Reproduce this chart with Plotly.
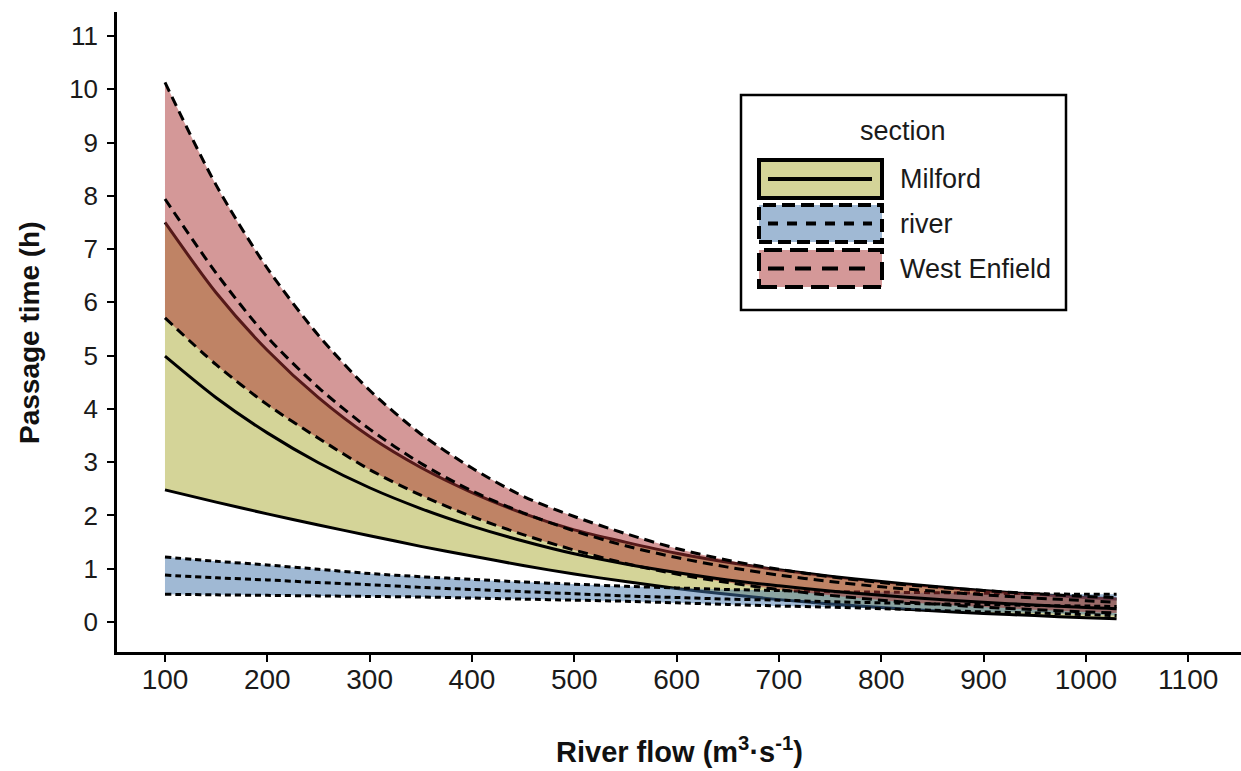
import plotly.graph_objects as go

# ---------------- data ----------------
flow = [100, 150, 200, 250, 300, 350, 400, 450, 500, 550, 600, 650, 700, 750,
        800, 850, 900, 950, 1000, 1030]

milford_lower = [2.48, 2.25, 2.03, 1.82, 1.62, 1.42, 1.24, 1.06, 0.90, 0.76, 0.63,
                 0.52, 0.42, 0.34, 0.27, 0.21, 0.16, 0.12, 0.08, 0.06]
milford_mid = [4.99, 4.21, 3.55, 2.99, 2.52, 2.13, 1.80, 1.52, 1.28, 1.09, 0.93,
               0.79, 0.68, 0.58, 0.50, 0.43, 0.37, 0.32, 0.27, 0.25]
milford_upper = [7.50, 6.18, 5.10, 4.21, 3.48, 2.90, 2.43, 2.04, 1.73, 1.50, 1.29,
                 1.12, 0.98, 0.86, 0.76, 0.67, 0.59, 0.52, 0.46, 0.43]

river_lower = [0.52, 0.51, 0.50, 0.49, 0.48, 0.47, 0.45, 0.43, 0.41, 0.39, 0.36,
               0.33, 0.30, 0.28, 0.25, 0.22, 0.19, 0.17, 0.14, 0.12]
river_mid = [0.88, 0.83, 0.79, 0.74, 0.70, 0.65, 0.61, 0.57, 0.53, 0.49, 0.46,
             0.43, 0.41, 0.38, 0.36, 0.34, 0.33, 0.31, 0.30, 0.29]
river_upper = [1.22, 1.14, 1.07, 0.99, 0.91, 0.85, 0.80, 0.75, 0.71, 0.67, 0.64,
               0.61, 0.59, 0.57, 0.56, 0.55, 0.54, 0.53, 0.52, 0.52]

we_lower = [5.71, 4.83, 4.08, 3.45, 2.86, 2.38, 1.98, 1.64, 1.35, 1.10, 0.90,
            0.74, 0.61, 0.50, 0.41, 0.34, 0.28, 0.23, 0.19, 0.17]
we_mid = [7.94, 6.55, 5.35, 4.40, 3.62, 2.98, 2.46, 2.05, 1.71, 1.43, 1.21,
          1.03, 0.88, 0.76, 0.66, 0.58, 0.51, 0.45, 0.40, 0.37]
we_upper = [10.13, 8.20, 6.64, 5.38, 4.35, 3.53, 2.89, 2.36, 1.98, 1.66, 1.38,
            1.16, 0.99, 0.85, 0.74, 0.66, 0.59, 0.53, 0.48, 0.46]

sections = ["Milford", "river", "West Enfield"]
x_ticks = [100, 200, 300, 400, 500, 600, 700, 800, 900, 1000, 1100]
y_ticks = list(range(0, 12))

# ---------------- styles ----------------
fills = {
    "Milford": "rgba(169,169,49,0.5)",
    "river": "rgba(65,115,169,0.5)",
    "West Enfield": "rgba(169,49,49,0.5)",
}
dashes = {"Milford": "solid", "river": "6px,4px", "West Enfield": "10px,6px"}
key_border_dash = {"Milford": "solid", "river": "13px,6px", "West Enfield": "18px,8px"}
key_line_dash = {"Milford": "solid", "river": "10px,9px", "West Enfield": "16px,11px"}
LW = 3

bands = {
    "Milford": (milford_lower, milford_mid, milford_upper),
    "river": (river_lower, river_mid, river_upper),
    "West Enfield": (we_lower, we_mid, we_upper),
}

fig = go.Figure()

# ribbons (fill + borders), drawn group by group
for s in sections:
    lo, mid, up = bands[s]
    fig.add_trace(go.Scatter(
        x=flow, y=lo, mode="lines", showlegend=False, hoverinfo="skip",
        line=dict(color="black", width=LW, dash=dashes[s], shape="spline", smoothing=0.8)))
    fig.add_trace(go.Scatter(
        x=flow, y=up, mode="lines", fill="tonexty", fillcolor=fills[s],
        showlegend=False, hoverinfo="skip",
        line=dict(color="black", width=LW, dash=dashes[s], shape="spline", smoothing=0.8)))

# center lines
for s in sections:
    lo, mid, up = bands[s]
    fig.add_trace(go.Scatter(
        x=flow, y=mid, mode="lines", name=s, showlegend=False,
        line=dict(color="black", width=LW, dash=dashes[s], shape="spline", smoothing=0.8)))

# ---------------- layout ----------------
W, H = 1241, 771
ML, MR, MT, MB = 117, 0, 12, 119
PW, PH = W - ML - MR, H - MT - MB


def px(xp):
    return (xp - ML) / PW


def py(yp):
    return (H - MB - yp) / PH


ytick_font = dict(family="Liberation Sans, Arial, sans-serif", size=26, color="#1a1a1a")
xtick_font = dict(family="Liberation Sans, Arial, sans-serif", size=28, color="#1a1a1a")

fig.update_layout(
    width=W, height=H,
    margin=dict(l=ML, r=MR, t=MT, b=MB, autoexpand=False),
    paper_bgcolor="white", plot_bgcolor="white",
    showlegend=False,
    xaxis=dict(range=[53.1, 1151.6], tickvals=x_ticks, ticks="outside", ticklen=7,
               tickwidth=2, tickcolor="black", showline=True, linecolor="black",
               linewidth=2.5, showgrid=False, zeroline=False, tickfont=xtick_font,
               ticklabelstandoff=-6),
    yaxis=dict(range=[-0.563, 11.45], tickvals=y_ticks, ticks="outside", ticklen=7,
               tickwidth=2, tickcolor="black", showline=True, linecolor="black",
               linewidth=2.5, showgrid=False, zeroline=False, tickfont=ytick_font,
               ticklabelstandoff=4),
)

# axis titles
fig.add_annotation(x=px(679), y=py(750), xref="paper", yref="paper",
                   text="<b>River flow (m<sup>3</sup>·s<sup>-1</sup>)</b>", showarrow=False,
                   font=dict(family="Liberation Sans, Arial, sans-serif", size=29, color="#111"),
                   xanchor="center", yanchor="middle")
fig.add_annotation(x=px(29), y=py(333), xref="paper", yref="paper",
                   text="<b>Passage time (h)</b>", showarrow=False, textangle=-90,
                   font=dict(family="Liberation Sans, Arial, sans-serif", size=28, color="#111"),
                   xanchor="center", yanchor="middle")

# ---------------- legend (drawn manually, ggplot style) ----------------
shapes = []
shapes.append(dict(type="rect", xref="paper", yref="paper",
                   x0=px(741), x1=px(1066), y0=py(310), y1=py(95),
                   line=dict(color="black", width=2.5), fillcolor="white", layer="above"))
fig.add_annotation(x=px(903), y=py(131), xref="paper", yref="paper", text="section",
                   showarrow=False, xanchor="center", yanchor="middle",
                   font=dict(family="Liberation Sans, Arial, sans-serif", size=27, color="#1a1a1a"))
key_rows = [(160, 198), (205, 242), (250, 287)]
for s, (t, b) in zip(sections, key_rows):
    shapes.append(dict(type="rect", xref="paper", yref="paper",
                       x0=px(759), x1=px(882), y0=py(b), y1=py(t),
                       line=dict(color="black", width=4, dash=key_border_dash[s]),
                       fillcolor=fills[s], layer="above"))
    shapes.append(dict(type="line", xref="paper", yref="paper",
                       x0=px(768), x1=px(872), y0=py((t + b) / 2), y1=py((t + b) / 2),
                       line=dict(color="black", width=4, dash=key_line_dash[s]), layer="above"))
    fig.add_annotation(x=px(898), y=py((t + b) / 2), xref="paper", yref="paper", text=s,
                       showarrow=False, xanchor="left", yanchor="middle",
                       font=dict(family="Liberation Sans, Arial, sans-serif", size=27, color="#1a1a1a"))
fig.update_layout(shapes=shapes)

fig.write_html("out.html", config={"displayModeBar": False},
               post_script="document.body.style.margin='0px';")
